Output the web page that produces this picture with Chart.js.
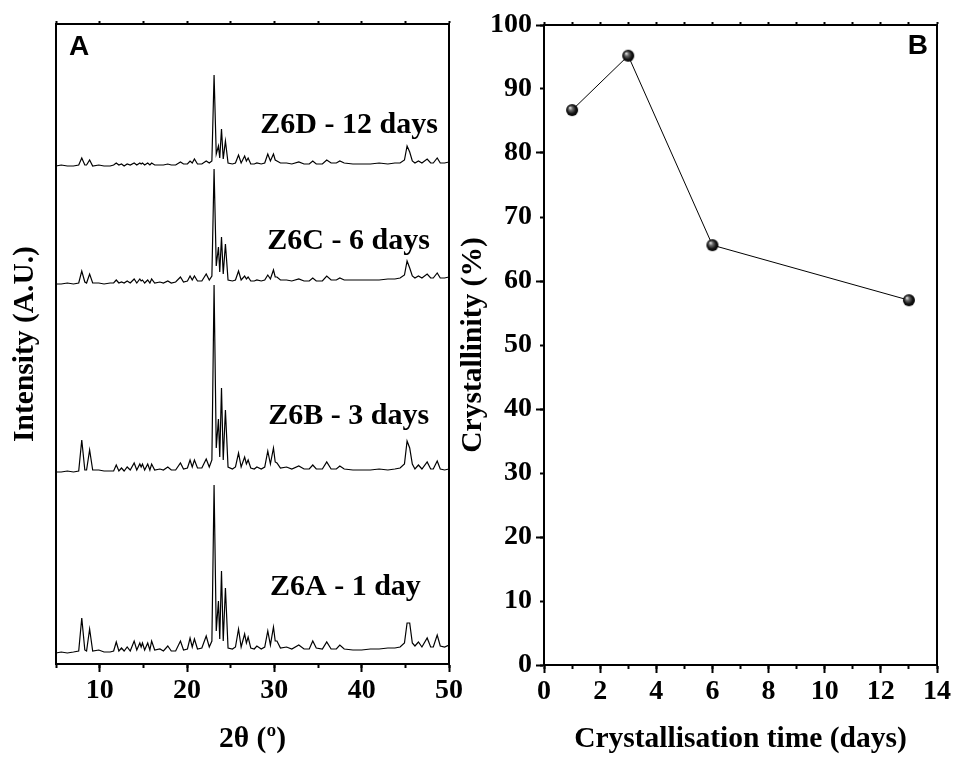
<!DOCTYPE html>
<html>
<head>
<meta charset="utf-8">
<script src="https://cdn.jsdelivr.net/npm/chart.js@4.4.1/dist/chart.umd.min.js"></script>
<style>
  body { margin: 0; background: #fff; }
  #wrap { position: relative; width: 956px; height: 760px; }
  #wrap canvas { position: absolute; top: 0; }
</style>
</head>
<body>
<div id="wrap">
  <canvas id="xrd" width="478" height="760" style="left:0"></canvas>
  <canvas id="cryst" width="526" height="760" style="left:430px"></canvas>
</div>

<script>
// ---- panel A : XRD patterns ----
const twoTheta = [5.0, 5.6, 6.3, 7.0, 7.6, 7.95, 8.3, 8.5, 8.85, 9.2, 9.9, 10.5, 11.2, 11.6, 11.9, 12.2, 12.5, 12.8,
  13.15, 13.5, 13.95, 14.25, 14.6, 14.75, 14.9, 15.15, 15.5, 15.75, 15.95, 16.3, 16.9, 17.3, 17.8, 18.2, 18.7,
  19.25, 19.6, 20.05, 20.35, 20.6, 20.85, 21.2, 21.7, 22.2, 22.55, 22.85, 23.1, 23.35, 23.6, 23.75, 23.95, 24.15,
  24.4, 24.7, 25.2, 25.55, 25.9, 26.2, 26.6, 26.8, 27.0, 27.3, 27.7, 28.0, 28.5, 28.9, 29.25, 29.55, 29.9, 30.1,
  30.3, 30.7, 31.4, 32.0, 32.8, 33.4, 34.0, 34.4, 34.8, 35.5, 36.0, 36.5, 37.1, 37.5, 38.0, 39.0, 40.0, 41.0,
  42.0, 43.0, 43.8, 44.4, 44.9, 45.2, 45.5, 45.8, 46.1, 46.5, 46.9, 47.5, 47.9, 48.2, 48.65, 49.0, 49.5, 50.0];

const z6a = [0, 1, 0, 1, 2, 35, 3, 2, 24, 2, 3, 1, 1, 2, 11, 2, 5, 2,
  6, 2, 12, 3, 10, 6, 10, 3, 10, 3, 12, 3, 4, 2, 7, 2, 2,
  12, 3, 4, 15, 6, 14, 4, 5, 17, 6, 12, 168, 22, 52, 14, 82, 12,
  65, 5, 4, 6, 24, 6, 19, 10, 16, 5, 4, 7, 4, 6, 22, 8, 26, 12,
  12, 5, 6, 4, 8, 4, 4, 12, 5, 4, 11, 4, 4, 8, 4, 3, 3, 4,
  4, 5, 5, 6, 10, 30, 30, 10, 7, 11, 6, 15, 6, 6, 18, 7, 6, 8];

const z6b = [0, 0, 1, 0, 1, 32, 2, 2, 22, 2, 2, 1, 1, 1, 7, 1, 4, 1,
  5, 2, 9, 2, 8, 5, 8, 2, 8, 2, 8, 2, 3, 2, 5, 2, 2,
  9, 3, 4, 12, 5, 12, 4, 4, 13, 5, 12, 187, 24, 53, 15, 84, 12,
  62, 5, 3, 5, 19, 5, 15, 8, 12, 4, 3, 5, 3, 5, 21, 8, 24, 10,
  9, 4, 5, 3, 6, 3, 3, 7, 3, 3, 10, 3, 3, 6, 3, 2, 2, 2,
  3, 2, 3, 4, 8, 31, 24, 8, 3, 7, 3, 10, 3, 3, 11, 3, 2, 3];

const z6c = [0, 0, 1, 0, 1, 13, 2, 1, 10, 1, 1, 0, 1, 1, 4, 1, 2, 1,
  3, 1, 5, 1, 5, 3, 4, 1, 4, 1, 5, 1, 2, 1, 3, 1, 2,
  7, 2, 3, 8, 4, 8, 3, 3, 10, 4, 8, 115, 18, 37, 12, 47, 10,
  40, 4, 3, 4, 13, 4, 8, 5, 7, 3, 3, 4, 3, 4, 9, 5, 14, 7,
  7, 4, 4, 3, 5, 3, 3, 6, 3, 3, 8, 4, 4, 6, 4, 4, 4, 4,
  4, 5, 5, 6, 9, 23, 16, 8, 6, 8, 6, 10, 6, 6, 11, 6, 6, 7];

const z6d = [0, 1, 0, 0, 1, 8, 1, 1, 6, 0, 1, 0, 0, 1, 3, 1, 2, 0,
  2, 1, 3, 1, 3, 2, 3, 1, 3, 1, 3, 1, 1, 1, 2, 1, 1,
  4, 2, 2, 5, 3, 7, 2, 2, 5, 3, 5, 91, 12, 20, 8, 37, 7,
  25, 3, 2, 3, 11, 3, 10, 5, 8, 2, 2, 3, 2, 3, 12, 5, 12, 6,
  5, 3, 3, 2, 4, 2, 2, 5, 2, 2, 6, 3, 3, 5, 3, 2, 2, 2,
  3, 2, 3, 3, 6, 20, 14, 5, 3, 5, 3, 7, 3, 3, 8, 3, 3, 4];

const traceNames = ['Z6A - 1 day', 'Z6B - 3 days', 'Z6C - 6 days', 'Z6D - 12 days'];
const traceOffsets = [11, 192, 380, 498];
const xrdTicks = [10, 20, 30, 40, 50];

// ---- panel B : crystallinity ----
const days = [1, 3, 6, 13];
const crystallinity = [86.7, 95.2, 65.6, 57.0];

const serif = "'Liberation Serif', 'Times New Roman', serif";
const sans = "'Liberation Sans', Arial, sans-serif";
const tickFont = { family: serif, size: 28, weight: 'bold' };
const titleFont = { family: serif, size: 29.5, weight: 'bold' };

// text labels drawn on top of the plot
const annotate = {
  id: 'annotate',
  afterDraw(chart, args, opts) {
    const ctx = chart.ctx;
    const xs = chart.scales.x, ys = chart.scales.y;
    ctx.save();
    ctx.fillStyle = '#000';
    ctx.textBaseline = 'alphabetic';
    (opts.items || []).forEach(it => {
      ctx.font = it.font;
      ctx.textAlign = it.align || 'left';
      const px = it.px !== undefined ? it.px(chart.chartArea) : xs.getPixelForValue(it.x);
      const py = it.py !== undefined ? it.py(chart.chartArea) : ys.getPixelForValue(it.y);
      ctx.fillText(it.text, px, py);
    });
    ctx.restore();
  }
};

function frameAxis(pos, min, max, step, len, extra) {
  return Object.assign({
    type: 'linear', position: pos, min: min, max: max,
    ticks: { display: false, stepSize: step },
    grid: { drawOnChartArea: false, tickLength: len, tickColor: '#000', tickWidth: 2 },
    border: { color: '#000', width: 2 },
    afterFit(s) { if (s.isHorizontal()) s.height = 0; else s.width = 0; }
  }, extra || {});
}

// panel A datasets
const traces = [z6a, z6b, z6c, z6d];
const xrdDatasets = traces.map((vals, i) => ({
  label: traceNames[i],
  data: twoTheta.map((t, j) => ({ x: t, y: vals[j] + traceOffsets[i] })),
  borderColor: '#000',
  borderWidth: 1.2,
  pointRadius: 0,
  tension: 0,
  fill: false
}));

const labelFont = 'bold 30px ' + serif;

new Chart(document.getElementById('xrd'), {
  type: 'line',
  data: { datasets: xrdDatasets },
  options: {
    responsive: false,
    animation: false,
    layout: { padding: { top: 24, right: 29, bottom: 0, left: 0 } },
    plugins: {
      legend: { display: false },
      tooltip: { enabled: false },
      annotate: {
        items: [
          { text: 'A', font: 'bold 28px ' + sans, px: a => a.left + 13, py: a => a.top + 31 },
          { text: traceNames[3], font: labelFont, x: 28.4, y: 531 },
          { text: traceNames[2], font: labelFont, x: 29.2, y: 415 },
          { text: traceNames[1], font: labelFont, x: 29.3, y: 240 },
          { text: traceNames[0], font: labelFont, x: 29.5, y: 69 }
        ]
      }
    },
    scales: {
      x: {
        type: 'linear', position: 'bottom', min: 5, max: 50, weight: 1,
        ticks: {
          stepSize: 10, autoSkip: false, maxRotation: 0, padding: 2,
          color: '#000', font: tickFont,
          callback: v => xrdTicks.includes(v) ? String(v) : ''
        },
        grid: {
          drawOnChartArea: false, tickLength: 8, tickWidth: 2,
          tickColor: c => (c.tick && c.tick.value % 10 === 0) ? '#000' : 'rgba(0,0,0,0)'
        },
        border: { color: '#000', width: 2 },
        title: { display: true, text: '2\u03b8 (\u00ba)', color: '#000', font: titleFont, padding: { top: 0, bottom: 3 } },
        afterFit(s) { s.height = 96; }
      },
      xMinor: frameAxis('bottom', 5, 50, 5, 4, { weight: 0 }),
      xTop: frameAxis('top', 5, 50, 5, 3),
      y: {
        type: 'linear', position: 'left', min: 0, max: 640, weight: 1,
        ticks: { display: false },
        grid: { display: false },
        border: { color: '#000', width: 2 },
        title: { display: true, text: 'Intensity (A.U.)', color: '#000', font: titleFont, padding: { top: 8, bottom: 0 } },
        afterFit(s) { s.width = 56; }
      },
      yRight: frameAxis('right', 0, 640, 640, 0, { grid: { display: false } })
    }
  },
  plugins: [annotate]
});

// sphere marker
function sphere(r) {
  const c = document.createElement('canvas');
  c.width = c.height = 2 * r + 2;
  const g = c.getContext('2d');
  const cx = r + 1, cy = r + 1;
  const grad = g.createRadialGradient(cx - r * 0.35, cy - r * 0.4, 0.3, cx, cy, r);
  grad.addColorStop(0, '#e6e6e6');
  grad.addColorStop(0.3, '#6a6a6a');
  grad.addColorStop(0.7, '#151515');
  grad.addColorStop(1, '#000');
  g.fillStyle = grad;
  g.beginPath();
  g.arc(cx, cy, r, 0, Math.PI * 2);
  g.fill();
  return c;
}
const ball = sphere(6);

new Chart(document.getElementById('cryst'), {
  type: 'line',
  data: {
    datasets: [{
      label: 'Crystallinity',
      data: days.map((d, i) => ({ x: d, y: crystallinity[i] })),
      borderColor: '#000',
      borderWidth: 1,
      pointStyle: ball,
      pointRadius: 6,
      tension: 0,
      fill: false
    }]
  },
  options: {
    responsive: false,
    animation: false,
    layout: { padding: { top: 25, right: 19, bottom: 0, left: 0 } },
    plugins: {
      legend: { display: false },
      tooltip: { enabled: false },
      annotate: {
        items: [
          { text: 'B', font: 'bold 28px ' + sans, align: 'right', px: a => a.right - 9, py: a => a.top + 29 }
        ]
      }
    },
    scales: {
      x: {
        type: 'linear', position: 'bottom', min: 0, max: 14, weight: 1,
        ticks: { stepSize: 2, autoSkip: false, maxRotation: 0, padding: 2, color: '#000', font: tickFont },
        grid: { drawOnChartArea: false, tickLength: 8, tickWidth: 2, tickColor: '#000' },
        border: { color: '#000', width: 2 },
        title: { display: true, text: 'Crystallisation time (days)', color: '#000', font: titleFont, padding: { top: 0, bottom: 3 } },
        afterFit(s) { s.height = 95; }
      },
      xMinor: frameAxis('bottom', 0, 14, 1, 4, { weight: 0 }),
      xTop: frameAxis('top', 0, 14, 1, 3),
      y: {
        type: 'linear', position: 'left', min: 0, max: 100, weight: 1,
        ticks: { stepSize: 10, autoSkip: false, padding: 4, color: '#000', font: tickFont },
        grid: {
          drawOnChartArea: false, tickLength: 8, tickWidth: 2,
          tickColor: c => (c.tick && c.tick.value % 20 === 0) ? '#000' : 'rgba(0,0,0,0)'
        },
        border: { color: '#000', width: 2 },
        title: { display: true, text: 'Crystallinity (%)', color: '#000', font: titleFont, padding: { top: 26, bottom: 0 } },
        afterFit(s) { s.width = 114; }
      },
      yMinor: frameAxis('left', 0, 100, 10, 4, { weight: 0 }),
      yRight: frameAxis('right', 0, 100, 100, 0, { grid: { display: false } })
    }
  },
  plugins: [annotate]
});
</script>
</body>
</html>
